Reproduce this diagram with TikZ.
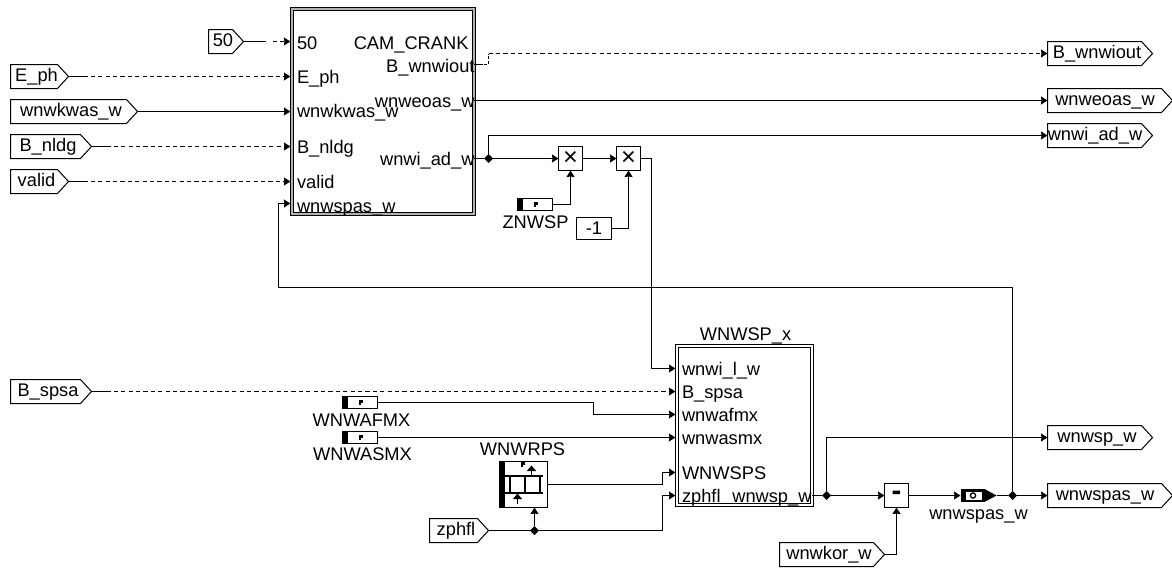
\documentclass[tikz,border=0pt]{standalone}
\usepackage{fontspec}
\setmainfont{Liberation Sans}
\usetikzlibrary{arrows.meta,shapes.geometric,calc}
\def\px{0.75pt}
\newdimen\pxd \pxd=0.75pt
\tikzset{
  base/.style={font=\fontsize{13.7}{16}\selectfont, inner sep=0pt, outer sep=0pt},
  tagbox/.style={base, minimum height=24*\px, text height=10.2pt, text depth=3pt},
  lbl/.style={base, text height=10pt, text depth=3pt, anchor=base},
  lblw/.style={lbl, anchor=base west},
  lble/.style={lbl, anchor=base east},
  outline/.style={draw=black, line width=\px, line join=miter},
  wire/.style={draw=black, line width=\px},
  arrow/.style={wire, -{Stealth[length=6.5*\px, width=8*\px, inset=0.5*\px]}},
  inport/.style={arrow, shorten >=1.6*\px},
  dashwire/.style={arrow, dash pattern=on 4.2*\px off 3.2*\px},
  bigblock/.style={base, draw=black, line width=4*\px},
  blockfill/.style={line width=2*\px},
  opbox/.style={base, draw=black, line width=\px, minimum width=24*\px, minimum height=24*\px},
  timesmark/.style={font=\fontsize{19}{19}\selectfont},
  minusmark/.style={font=\fontsize{22}{22}\selectfont\bfseries},
  junction/.style={diamond, fill=black, inner sep=0pt, minimum width=9*\px, minimum height=9*\px, outer sep=0pt},
  param/.style={base, draw=black, line width=\px, minimum width=35*\px, minimum height=12*\px}
}
% name, x1, x2, y centre, text, left shift of the text
\newcommand{\tagnode}[6]{%
  \node[tagbox, minimum width={(#3-#2)*\px}] (#1) at ({(#2+#3)/2},#4) {#5\kern #6\pxd};
  \draw[outline] (#1.north west) -- ([xshift=-11*\px]#1.north east) -- (#1.east)
     -- ([xshift=-11*\px]#1.south east) -- (#1.south west) -- cycle;
}
\newcommand{\pmark}[2]{%
  \fill[black] ({#1-2},{#2-2.5}) rectangle ({#1+2},{#2+0.8});
  \fill[black] ({#1-2},{#2+0.8}) rectangle ({#1},{#2+2.8});
}
% name, x1, y centre
\newcommand{\paramnode}[3]{%
  \node[param] (#1) at ({#2+17.5},#3) {};
  \fill[black] (#2,{#3-6}) rectangle ({#2+5.5},{#3+6});
  \pmark{#2+18}{#3}
}
\begin{document}
\begin{tikzpicture}[x=\px, y=-\px]
\useasboundingbox (0,0) rectangle (1172,568);
\begin{scope}[shift={(0.5,0.5)}]

% ---------- blocks
\node[bigblock, minimum width=182*\px, minimum height=205*\px] (cc) at (382.5,111) {};
\draw[blockfill, draw=gray!60] (cc.south west) rectangle (cc.north east);
\node[bigblock, minimum width=135*\px, minimum height=159*\px] (ws) at (744,425) {};
\draw[blockfill, draw=white] (ws.south west) rectangle (ws.north east);

% ---------- block 1 labels
\node[lblw] (l50) at (296.5,49) {50};
\node[lblw] (lEph) at (296.5,83) {E\_ph};
\node[lblw] (lkwas) at (296.5,117) {wnwkwas\_w};
\node[lblw] (lnldg) at (296.5,153) {B\_nldg};
\node[lblw] (lvalid) at (296.5,188) {valid};
\node[lblw] (lspas) at (296.5,212) {wnwspas\_w};
\node[lble] (lcam) at (468,49) {CAM\_CRANK};
\node[lble] (lout) at (474,72) {B\_wnwiout};
\node[lble] (leoas) at (474,107) {wnweoas\_w};
\node[lble] (lad) at (474,165) {wnwi\_ad\_w};

% ---------- block 2 labels
\node[lbl] (ltitle) at (745,340) {WNWSP\_x};
\node[lblw] (lil) at (681.5,375) {wnwi\_l\_w};
\node[lblw] (lsp) at (681.5,398) {B\_spsa};
\node[lblw] (laf) at (681.5,421) {wnwafmx};
\node[lblw] (las) at (681.5,444) {wnwasmx};
\node[lblw] (lsps) at (681.5,479) {WNWSPS};
\node[lblw] (lzph) at (681.5,502) {zphfl};
\node[lble] (lwsp) at (811,502) {wnwsp\_w};

% ---------- input tags
\tagnode{t50}{208}{243}{41}{50}{6}
\tagnode{tEph}{10}{68}{76}{E\_ph}{6}
\tagnode{tkwas}{10}{137}{111}{wnwkwas\_w}{6}
\tagnode{tnldg}{10}{91}{146}{B\_nldg}{6}
\tagnode{tvalid}{10}{68}{181}{valid}{6}
\tagnode{tspsa}{10}{91}{391}{B\_spsa}{6}
\tagnode{tzph}{429}{488}{530}{zphfl}{6}
\tagnode{tkor}{779}{884}{554}{wnwkor\_w}{6}

% ---------- output tags
\tagnode{toutw}{1047}{1152}{53}{B\_wnwiout}{6}
\tagnode{teoas}{1047}{1172}{100}{wnweoas\_w}{10}
\tagnode{tad}{1047}{1152}{135}{wnwi\_ad\_w}{10}
\tagnode{twsp}{1047}{1152}{437}{wnwsp\_w}{6}
\tagnode{tspas}{1047}{1172}{495}{wnwspas\_w}{10}

% ---------- operators
\node[opbox, timesmark] (m1) at (570,158) {×};
\node[opbox, timesmark] (m2) at (628,158) {×};
\node[opbox, minusmark] (sub) at (896,495) {-};
\node[base, draw=black, line width=\px, minimum width=35*\px, minimum height=22*\px] (neg) at (593.5,228) {-1};

% ---------- parameters
\paramnode{pz}{517}{204}
\node[lbl] (lz) at (535,228) {ZNWSP};
\paramnode{paf}{342}{402}
\node[lbl] (laf2) at (361,426) {WNWAFMX};
\paramnode{pas}{342}{437}
\node[lbl] (las2) at (362,460) {WNWASMX};

% ---------- map WNWRPS
\node[lbl] (lrps) at (522,455) {WNWRPS};
\node[base, draw=black, line width=\px, minimum width=48*\px, minimum height=46*\px] (rps) at (523,484) {};
\fill[black] (499,461) rectangle (504.5,507);
\pmark{522}{463.5}
\draw[line width=2*\px] (504,475) -- (542,475) (504,492) -- (542,492)
  (509,475) -- (509,492) (524,475) -- (524,492) (539,475) -- (539,492);
\draw[line width=1.6*\px, -{Stealth[length=5.5*\px, width=9*\px, inset=0pt]}] (531,475) -- (531,465);
\draw[line width=1.6*\px, -{Stealth[length=5.5*\px, width=9*\px, inset=0pt]}] (517,503) -- (517,493);

% ---------- probe
\node[base, fill=black, minimum width=24*\px, minimum height=13*\px] (probe) at (972,495) {};
\fill[white] (965.5,491) rectangle (981,499.5);
\draw[line width=1.3*\px] (972.5,495) circle (2.6);
\fill[black] (984,488.5) -- (996,495) -- (984,501.5) -- cycle;
\coordinate (ptip) at (996,495);
\node[lbl] (lprobe) at (978,519) {wnwspas\_w};

% ---------- junctions
\node[junction] (j1) at (488,158) {};
\node[junction] (j2) at (534,530) {};
\node[junction] (j3) at (826,495) {};
\node[junction] (j4) at (1012,495) {};

% ---------- routing points
\coordinate (cin6) at (cc.west |- 0,203);
\coordinate (c1) at (278,287);
\coordinate (ob) at (cc.east |- 0,64);
\coordinate (c2) at (488,53);
\coordinate (oe) at (cc.east |- teoas.west);
\coordinate (oa) at (cc.east |- j1);
\coordinate (c3) at (651,158);
\coordinate (in1) at (ws.west |- 0,368);
\coordinate (c4) at (593,402);
\coordinate (in3) at (ws.west |- 0,414);
\coordinate (in5) at (ws.west |- 0,472);
\coordinate (in6) at (ws.west |- 0,495);
\coordinate (c5) at (662,484);
\coordinate (c6) at (662,530);
\coordinate (os) at (ws.east |- j3);

% ---------- inputs of block 1
\draw[wire] (t50.east) -- ++(22,0);
\draw[dashwire, shorten >=1.6*\px] ($(t50.east)+(29,0)$) -- (t50.east -| cc.west);
\foreach \t in {tEph,tnldg,tvalid}{
  \draw[dashwire, shorten >=1.6*\px] (\t.east) -- (\t.east -| cc.west);
  \draw[wire] (\t.east) -- ++(14,0);
}
\draw[inport] (tkwas.east) -- (tkwas.east -| cc.west);
\draw[inport] (j4) |- (c1) |- (cin6);

% ---------- outputs of block 1
\draw[wire, dash pattern=on 3*\px off 2*\px] (ob) -- (c2 |- ob) -- (c2);
\draw[wire] (ob) -- ++(9,0);
\draw[dashwire] (c2) -- (toutw.west);
\draw[arrow] (oe) -- (teoas.west);
\draw[wire] (oa) -- (j1);
\draw[arrow] (j1) |- (tad.west);
\draw[arrow] (j1) -- (m1.west);
\draw[arrow] (m1.east) -- (m2.west);
\draw[arrow] (pz.east) -| (m1.south);
\draw[arrow] (neg.east) -| (m2.south);
\draw[inport] (m2.east) -| (c3) |- (in1);

% ---------- inputs of block 2
\draw[dashwire, shorten >=1.6*\px] (tspsa.east) -- (tspsa.east -| ws.west);
\draw[wire] (tspsa.east) -- ++(14,0);
\draw[inport] (paf.east) -- (c4) |- (in3);
\draw[inport] (pas.east) -- (pas.east -| ws.west);
\draw[inport] (rps.east |- c5) -- (c5) |- (in5);
\draw[wire] (tzph.east) -- (j2);
\draw[inport] (j2) -- (c6) |- (in6);
\draw[arrow] (j2) -- (j2 |- rps.south);

% ---------- outputs of block 2
\draw[wire] (os) -- (j3);
\draw[arrow] (j3) |- (twsp.west);
\draw[arrow] (j3) -- (sub.west);
\draw[arrow] (tkor.east) -| (sub.south);
\draw[arrow] (sub.east) -- (probe.west);
\draw[wire] (ptip) -- (j4);
\draw[arrow] (j4) -- (tspas.west);
\end{scope}
\end{tikzpicture}
\end{document}
